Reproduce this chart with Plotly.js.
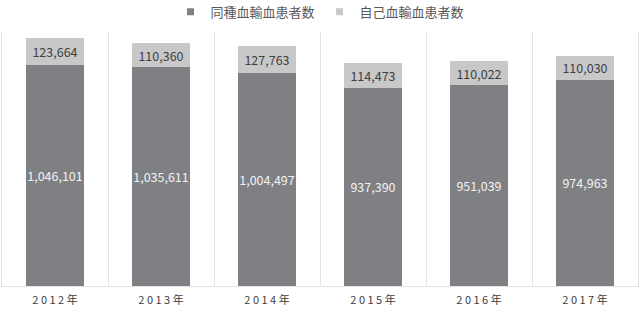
<!DOCTYPE html>
<html>
<head>
<meta charset="utf-8">
<script src="https://cdn.plot.ly/plotly-3.0.1.min.js"></script>
<style>html,body{margin:0;padding:0;background:#fff;}#chart{width:641px;height:310px;}</style>
</head>
<body>
<div id="chart"></div>
<script>
const years = ["2012年", "2013年", "2014年", "2015年", "2016年", "2017年"];
const allogeneic = [1046101, 1035611, 1004497, 937390, 951039, 974963];
const autologous = [123664, 110360, 127763, 114473, 110022, 110030];
const seriesNames = ["同種血輸血患者数", "自己血輸血患者数"];
const colors = ["#7f8083", "#c8c8c8"];

const spaced = years.map(s => Array.from(s).join(" "));
const font = "'Noto Sans CJK JP', 'Noto Sans', sans-serif";

const traces = [
  {
    type: "bar", name: seriesNames[0], x: years, y: allogeneic,
    marker: {color: colors[0]}, showlegend: false,
    texttemplate: "%{y:,}", textposition: "inside", insidetextanchor: "middle",
    textangle: 0, constraintext: "none",
    textfont: {color: "#f2f2f2", size: 12.5, family: font},
    hoverinfo: "none"
  },
  {
    type: "bar", name: seriesNames[1], x: years, y: autologous,
    marker: {color: colors[1]}, showlegend: false,
    texttemplate: "%{y:,}", textposition: "inside", insidetextanchor: "middle",
    textangle: 0, constraintext: "none",
    textfont: {color: "#404040", size: 12.5, family: font},
    hoverinfo: "none"
  },
  {
    type: "scatter", mode: "markers", name: seriesNames[0], x: [null], y: [null],
    marker: {symbol: "square", size: 7, color: colors[0]}, hoverinfo: "none"
  },
  {
    type: "scatter", mode: "markers", name: seriesNames[1], x: [null], y: [null],
    marker: {symbol: "square", size: 7, color: colors[1]}, hoverinfo: "none"
  }
];

const layout = {
  width: 641, height: 310,
  margin: {l: 2, r: 3, t: 32, b: 24, pad: 0},
  barmode: "stack",
  bargap: 0.445,
  paper_bgcolor: "#ffffff",
  plot_bgcolor: "#ffffff",
  font: {family: font, color: "#404040"},
  showlegend: true,
  legend: {
    orientation: "h", x: 0.5, xanchor: "center",
    yref: "container", y: 0.962, yanchor: "middle",
    font: {size: 13, color: "#595959", family: font},
    traceorder: "normal", itemwidth: 30, tracegroupgap: 0
  },
  xaxis: {
    type: "category",
    tickvals: years, ticktext: spaced,
    tickson: "boundaries", ticks: "", showgrid: true,
    gridcolor: "#e3e3e3", gridwidth: 1,
    showline: true, linecolor: "#e3e3e3", linewidth: 1,
    ticklabelstandoff: 4,
    tickfont: {size: 11, color: "#404040", family: font},
    fixedrange: true
  },
  yaxis: {
    range: [0, 1200000],
    showgrid: false, zeroline: false, showticklabels: false, ticks: "",
    showline: true, mirror: true, linecolor: "#e3e3e3", linewidth: 1,
    fixedrange: true
  }
};

Plotly.newPlot("chart", traces, layout, {displayModeBar: false, staticPlot: true});
</script>
</body>
</html>
